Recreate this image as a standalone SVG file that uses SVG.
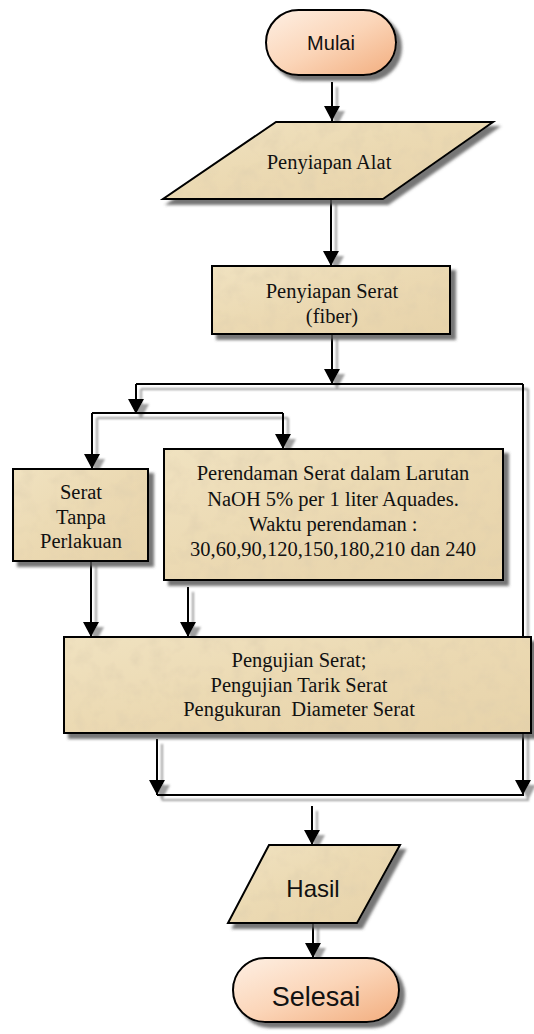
<svg xmlns="http://www.w3.org/2000/svg" width="534" height="1034" viewBox="0 0 534 1034">
<style>
.box{fill:url(#parch);stroke:#000;stroke-width:2;filter:url(#texshadow)}
.pill{fill:url(#peach);stroke:#000;stroke-width:2;filter:url(#shadow)}
.serif{font-family:"Liberation Serif","Times New Roman",serif;font-size:20.5px;fill:#111;text-anchor:middle}
.sans{font-family:"Liberation Sans",Arial,sans-serif;fill:#111;text-anchor:middle}
.ln{fill:none;stroke:#000;stroke-width:2}
.ar{fill:none;stroke:#000;stroke-width:2;marker-end:url(#ah)}
</style>
<defs>
<marker id="ah" viewBox="0 0 15 16" refX="15" refY="8" markerWidth="15" markerHeight="16" markerUnits="userSpaceOnUse" orient="auto">
<path d="M0,0 L15,8 L0,16 Z" fill="#000"/>
</marker>
<linearGradient id="peach" x1="0" y1="0" x2="1" y2="1">
<stop offset="0" stop-color="#fef0e4"/>
<stop offset="0.5" stop-color="#fbd5b8"/>
<stop offset="1" stop-color="#f2ad7e"/>
</linearGradient>
<linearGradient id="parch" x1="0" y1="0" x2="1" y2="1">
<stop offset="0" stop-color="#f0e2c0"/>
<stop offset="0.5" stop-color="#ebd9b2"/>
<stop offset="1" stop-color="#e7d3aa"/>
</linearGradient>
<filter id="shadow" x="-10%" y="-10%" width="130%" height="140%">
<feDropShadow dx="5" dy="5" stdDeviation="1.5" flood-color="#555" flood-opacity="0.8"/>
</filter>
<filter id="texshadow" x="-5%" y="-5%" width="115%" height="125%">
<feTurbulence type="fractalNoise" baseFrequency="0.06" numOctaves="3" seed="4" result="n"/>
<feColorMatrix in="n" type="matrix" values="0 0 0 0 0.7  0 0 0 0 0.6  0 0 0 0 0.42  0.9 0 0 0 -0.4" result="nc"/>
<feMorphology in="SourceAlpha" operator="erode" radius="2" result="inner"/>
<feComposite in="nc" in2="inner" operator="in" result="tex"/>
<feMerge result="body"><feMergeNode in="SourceGraphic"/><feMergeNode in="tex"/></feMerge>
<feDropShadow in="body" dx="5" dy="5" stdDeviation="1.5" flood-color="#555" flood-opacity="0.8"/>
</filter>
<filter id="lshadow" x="-10%" y="-10%" width="130%" height="130%">
<feDropShadow dx="5" dy="5" stdDeviation="0.8" flood-color="#888" flood-opacity="0.8"/>
</filter>
</defs>
<rect width="534" height="1034" fill="#fff"/>
<g id="connectors" filter="url(#lshadow)">
<path class="ar" d="M332,82 V121"/>
<path class="ar" d="M331,199 V266"/>
<path class="ar" d="M332,334 V384"/>
<path class="ln" d="M136,384 H523"/>
<path class="ar" d="M136,384 V414"/>
<path class="ar" d="M523,384 V795"/>
<path class="ln" d="M92,413 H283"/>
<path class="ar" d="M92,413 V469"/>
<path class="ar" d="M283,413 V449"/>
<path class="ar" d="M91,561 V637"/>
<path class="ar" d="M188,587 V637"/>
<path class="ar" d="M157,739 V795"/>
<path class="ln" d="M157,795 H524"/>
<path class="ar" d="M312,806 V845"/>
<path class="ar" d="M313,923 V958"/>
</g>
<g id="mulai">
<rect class="pill" x="266" y="10" width="130" height="65" rx="32.5"/>
<text class="sans" x="331" y="50" font-size="20">Mulai</text>
</g>
<g id="penyiapan-alat">
<polygon class="box" points="276,122 493,122 383,199 163,199"/>
<text class="serif" x="329" y="169">Penyiapan Alat</text>
</g>
<g id="penyiapan-serat">
<rect class="box" x="212" y="266" width="238" height="68"/>
<text class="serif" x="332" y="298">Penyiapan Serat</text>
<text class="serif" x="332" y="323">(fiber)</text>
</g>
<g id="serat-tanpa">
<rect class="box" x="13" y="469" width="135" height="92"/>
<text class="serif" x="81" y="499">Serat</text>
<text class="serif" x="81" y="524">Tanpa</text>
<text class="serif" x="81" y="548">Perlakuan</text>
</g>
<g id="perendaman">
<rect class="box" x="164" y="449" width="339" height="131"/>
<text class="serif" x="333" y="480">Perendaman Serat dalam Larutan</text>
<text class="serif" x="333" y="506">NaOH 5% per 1 liter Aquades.</text>
<text class="serif" x="333" y="531">Waktu perendaman :</text>
<text class="serif" x="333" y="556">30,60,90,120,150,180,210 dan 240</text>
</g>
<g id="pengujian">
<rect class="box" x="64" y="637" width="467" height="96"/>
<text class="serif" x="299" y="667">Pengujian Serat;</text>
<text class="serif" x="299" y="692">Pengujian Tarik Serat</text>
<text class="serif" x="299" y="716" xml:space="preserve">Pengukuran  Diameter Serat</text>
</g>
<g id="hasil">
<polygon class="box" points="269,845 400,845 357,923 228,923"/>
<text class="sans" x="313" y="897" font-size="24">Hasil</text>
</g>
<g id="selesai">
<rect class="pill" x="233" y="958" width="166" height="64" rx="32"/>
<text class="sans" x="316" y="1006" font-size="27">Selesai</text>
</g>
</svg>
